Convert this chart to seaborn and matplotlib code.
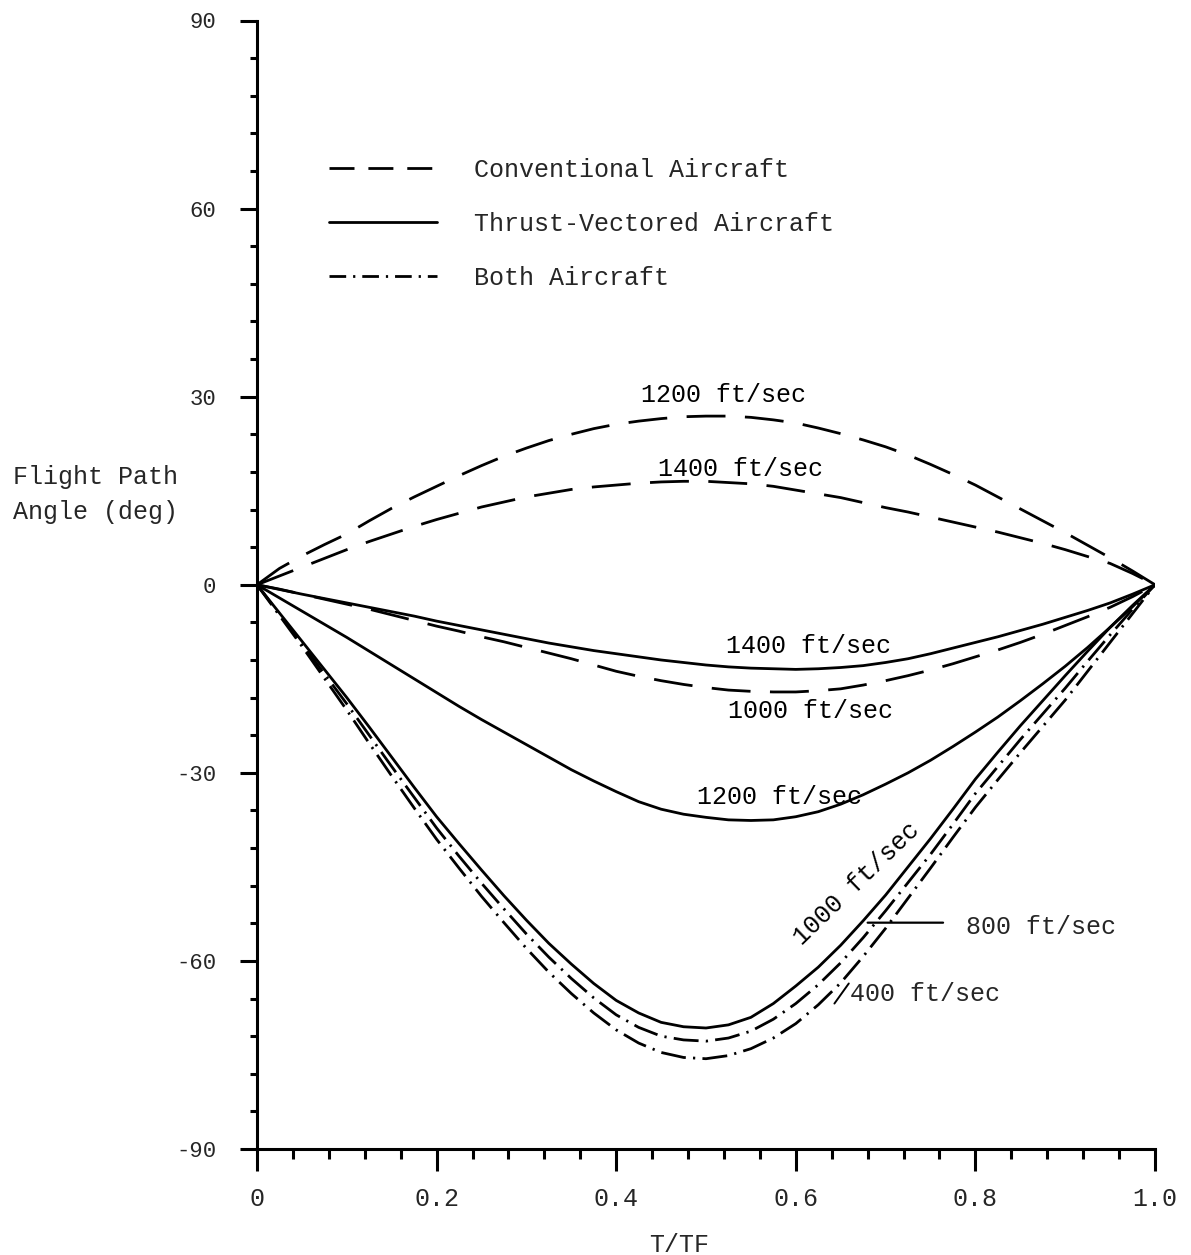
import numpy as np
import pandas as pd
import matplotlib
matplotlib.use("Agg")
import matplotlib.pyplot as plt
from matplotlib.lines import Line2D
from matplotlib.ticker import FixedLocator, MultipleLocator
import seaborn as sns

# Normalised time T/TF
t = [0.0, 0.025, 0.05, 0.075, 0.10, 0.125, 0.15, 0.175, 0.20, 0.225,
     0.25, 0.275, 0.30, 0.325, 0.35, 0.375, 0.40, 0.425, 0.45, 0.475,
     0.50, 0.525, 0.55, 0.575, 0.60, 0.625, 0.65, 0.675, 0.70, 0.725,
     0.75, 0.775, 0.80, 0.825, 0.85, 0.875, 0.90, 0.925, 0.95, 0.975, 1.0]

# Flight path angle (deg) - conventional aircraft
conv_1200 = [0, 2.6, 4.6, 6.4, 8.1, 10.2, 12.2, 14.0, 15.7, 17.4,
             19.0, 20.5, 21.8, 23.0, 24.0, 24.9, 25.6, 26.1, 26.5, 26.8,
             26.9, 26.9, 26.7, 26.3, 25.8, 25.0, 24.1, 23.1, 22.0, 20.7,
             19.2, 17.6, 15.9, 14.0, 12.1, 10.2, 8.3, 6.3, 4.3, 2.2, 0]
conv_1400 = [0, 1.4, 2.8, 4.2, 5.6, 6.9, 8.1, 9.3, 10.4, 11.4,
             12.4, 13.2, 14.0, 14.6, 15.2, 15.6, 15.9, 16.2, 16.4, 16.5,
             16.5, 16.3, 16.1, 15.7, 15.1, 14.5, 13.9, 13.1, 12.3, 11.6,
             10.8, 10.0, 9.2, 8.4, 7.5, 6.6, 5.6, 4.5, 3.4, 1.8, 0]
conv_1000 = [0, -0.7, -1.5, -2.3, -3.1, -3.9, -4.8, -5.7, -6.6, -7.4,
             -8.3, -9.1, -10.0, -10.9, -11.8, -12.8, -13.8, -14.6, -15.3, -15.9,
             -16.4, -16.8, -17.0, -17.1, -17.1, -16.9, -16.6, -16.0, -15.3, -14.5,
             -13.6, -12.6, -11.5, -10.4, -9.2, -7.9, -6.5, -5.1, -3.6, -1.9, 0]

# Flight path angle (deg) - thrust-vectored aircraft
tv_1400 = [0, -0.75, -1.5, -2.2, -2.9, -3.6, -4.3, -5.0, -5.8, -6.5,
           -7.2, -7.9, -8.6, -9.3, -9.9, -10.5, -11.0, -11.5, -12.0, -12.4,
           -12.8, -13.1, -13.3, -13.4, -13.5, -13.4, -13.2, -12.9, -12.4, -11.8,
           -11.0, -10.1, -9.2, -8.3, -7.3, -6.3, -5.2, -4.1, -2.9, -1.5, 0]
tv_1200 = [0, -2.1, -4.2, -6.3, -8.4, -10.6, -12.8, -15.0, -17.2, -19.4,
           -21.5, -23.5, -25.5, -27.5, -29.5, -31.3, -33.0, -34.6, -35.8, -36.6,
           -37.1, -37.5, -37.6, -37.5, -37.0, -36.2, -35.0, -33.5, -31.8, -30.0,
           -28.0, -25.8, -23.5, -21.1, -18.5, -15.8, -13.0, -10.0, -6.8, -3.5, 0]
tv_1000 = [0, -4.5, -9.0, -13.5, -18.0, -22.7, -27.5, -32.3, -37.0, -41.3,
           -45.5, -49.6, -53.5, -57.2, -60.5, -63.6, -66.3, -68.3, -69.8, -70.5,
           -70.7, -70.2, -69.0, -66.8, -64.0, -61.0, -57.5, -53.6, -49.5, -45.0,
           -40.5, -35.8, -31.0, -26.7, -22.5, -18.5, -14.5, -10.6, -6.8, -3.3, 0]

# Flight path angle (deg) - both aircraft
both_800 = [0, -4.7, -9.4, -14.2, -19.0, -24.0, -29.0, -33.9, -38.8, -43.3,
            -47.6, -51.7, -55.7, -59.4, -62.8, -65.9, -68.6, -70.6, -72.0, -72.6,
            -72.8, -72.3, -71.2, -69.3, -66.8, -63.8, -60.3, -56.3, -52.0, -47.5,
            -43.0, -38.2, -33.3, -29.0, -24.7, -20.6, -16.5, -12.2, -8.0, -3.9, 0]
both_400 = [0, -4.9, -9.8, -14.9, -20.0, -25.3, -30.5, -35.6, -40.6, -45.2,
            -49.7, -53.9, -58.0, -61.8, -65.2, -68.3, -71.0, -73.1, -74.6, -75.4,
            -75.6, -75.1, -74.0, -72.3, -70.0, -67.0, -63.5, -59.3, -54.8, -50.0,
            -45.2, -40.3, -35.5, -31.1, -26.8, -22.6, -18.4, -13.8, -9.2, -4.6, 0]

x_ticks = [0.0, 0.2, 0.4, 0.6, 0.8, 1.0]
x_tick_labels = ["0", "0.2", "0.4", "0.6", "0.8", "1.0"]
y_ticks = [-90, -60, -30, 0, 30, 60, 90]
y_tick_labels = ["-90", "-60", "-30", "0", "30", "60", "90"]

legend_labels = ["Conventional Aircraft", "Thrust-Vectored Aircraft", "Both Aircraft"]

curves = {
    "conv_1200": conv_1200, "conv_1400": conv_1400, "conv_1000": conv_1000,
    "tv_1400": tv_1400, "tv_1200": tv_1200, "tv_1000": tv_1000,
    "both_800": both_800, "both_400": both_400,
}
df = pd.concat(
    [pd.DataFrame({"t": t, "angle": v, "curve": k}) for k, v in curves.items()],
    ignore_index=True,
)

DASHED = (14, 7)
DASHDOT = (9, 2.6, 0.8, 2.6)
dash_map = {
    "conv_1200": DASHED, "conv_1400": DASHED, "conv_1000": DASHED,
    "tv_1400": "", "tv_1200": "", "tv_1000": "",
    "both_800": DASHDOT, "both_400": DASHDOT,
}

sns.set_theme(style="ticks")
plt.rcParams["font.family"] = ["Liberation Mono", "DejaVu Sans Mono"]

W, H = 1191, 1255
fig = plt.figure(figsize=(W / 100, H / 100), dpi=100)
ax = fig.add_axes([257 / W, 1 - 1149 / H, 898 / W, 1128.5 / H])

sns.lineplot(data=df, x="t", y="angle", style="curve", dashes=dash_map,
             color="black", linewidth=2.0, estimator=None, sort=False,
             legend=False, ax=ax)

ax.set_xlim(0, 1)
ax.set_ylim(-90, 90)
ax.xaxis.set_major_locator(FixedLocator(x_ticks))
ax.set_xticklabels(x_tick_labels)
ax.xaxis.set_minor_locator(MultipleLocator(0.04))
ax.yaxis.set_major_locator(FixedLocator(y_ticks))
ax.set_yticklabels(y_tick_labels)
ax.yaxis.set_minor_locator(MultipleLocator(6))

for side in ("top", "right"):
    ax.spines[side].set_visible(False)
for side in ("left", "bottom"):
    ax.spines[side].set_linewidth(2.2)
    ax.spines[side].set_color("black")

ax.tick_params(axis="both", which="both", direction="out", color="black",
               bottom=True, left=True, width=2.2)
ax.tick_params(axis="x", which="major", length=16, pad=11, labelsize=18)
ax.tick_params(axis="x", which="minor", length=7)
ax.tick_params(axis="y", which="major", length=12.5, pad=17, labelsize=16)
ax.tick_params(axis="y", which="minor", length=5)
ax.set_xlabel("T/TF", fontsize=18)
ax.xaxis.set_label_coords(0.47, -0.074)
ax.set_ylabel("")

fig.text(13 / W, 1 - 465 / H, "Flight Path\nAngle (deg)", ha="left", va="top",
         fontsize=18, linespacing=1.6)

handles = [
    Line2D([], [], color="black", lw=2.0, dashes=(9, 5)),
    Line2D([], [], color="black", lw=2.0),
    Line2D([], [], color="black", lw=2.0, dashes=(6, 2.5, 0.8, 2.5)),
]
ax.legend(handles, legend_labels, loc="upper left",
          bbox_to_anchor=(329 / W, 1 - 158 / H), bbox_transform=fig.transFigure,
          frameon=False, fontsize=18, handlelength=4.3, handletextpad=1.5,
          labelspacing=1.2, borderpad=0, borderaxespad=0)

lab = dict(fontsize=18, ha="center", va="center", color="black")
ax.text(0.52, 30.3, "1200 ft/sec", **lab)
ax.text(0.538, 18.5, "1400 ft/sec", **lab)
ax.text(0.614, -9.7, "1400 ft/sec", **lab)
ax.text(0.616, -20.1, "1000 ft/sec", **lab)
ax.text(0.582, -33.8, "1200 ft/sec", **lab)
ax.text(0.668, -47.6, "1000 ft/sec", rotation=44, rotation_mode="anchor", **lab)

ax.text(0.79, -54.6, "800 ft/sec", fontsize=18, ha="left", va="center")
ax.annotate("", xy=(0.68, -53.9), xytext=(0.764, -53.9),
            arrowprops=dict(arrowstyle="-", lw=1.6, color="black",
                            shrinkA=0, shrinkB=0))
ax.text(0.66, -65.3, "400 ft/sec", fontsize=18, ha="left", va="center")
ax.annotate("", xy=(0.643, -66.8), xytext=(0.659, -63.6),
            arrowprops=dict(arrowstyle="-", lw=1.4, color="black",
                            shrinkA=0, shrinkB=0))

fig.savefig("out.png", dpi=100, facecolor="white")
